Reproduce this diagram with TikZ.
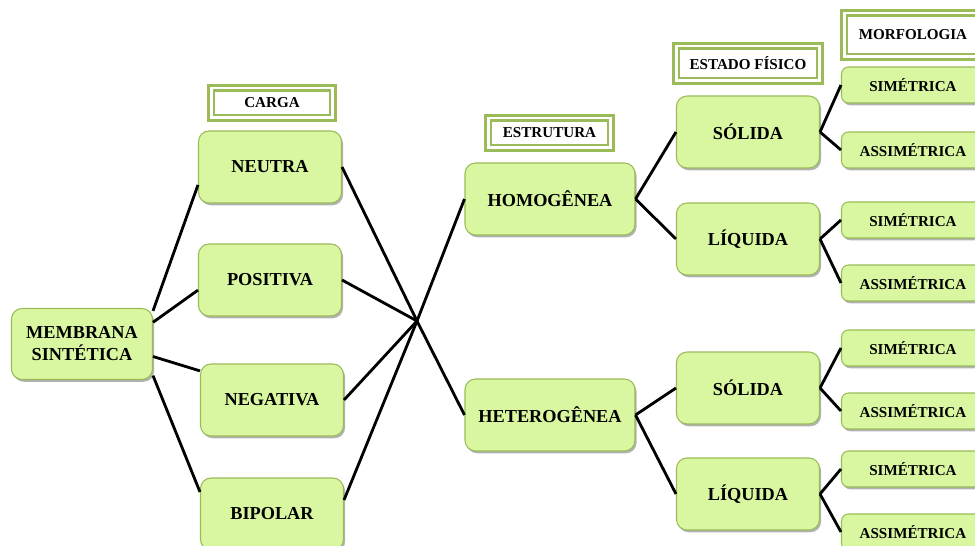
\documentclass[tikz,border=0pt]{standalone}
\usepackage{fontspec}
\setmainfont{Liberation Serif}
\usetikzlibrary{positioning}
\usetikzlibrary{shadows}
\definecolor{caixaverde}{RGB}{216,247,160}
\definecolor{bordaverde}{RGB}{155,187,89}
\tikzset{
    caixa/.style={ % Green boxes of the map
        draw=bordaverde,
        fill=caixaverde,
        line width=0.6pt,
        rounded corners=6pt,
        minimum width=2.86cm,
        minimum height=1.44cm,
        align=center,
        font=\fontsize{10.4}{12.5}\selectfont\bfseries,
        drop shadow={shadow xshift=0.9pt, shadow yshift=-1.3pt, fill=black, opacity=0.3}
    },
    folha/.style={ % Small boxes on the right
        caixa,
        rounded corners=4pt,
        minimum height=0.72cm,
        font=\fontsize{8.6}{10}\selectfont\bfseries
    },
    titulo/.style={ % Headers with double frame
        draw=bordaverde,
        fill=white,
        line width=1.5pt,
        double=white,
        double distance=1.7pt,
        font=\fontsize{8.6}{10}\selectfont\bfseries
    },
    every edge/.style={ % Connectors
        draw,
        black,
        line width=1.6pt
    }
}
\begin{document}
\begin{tikzpicture}[x=0.02cm, y=-0.02cm]
            \useasboundingbox (0,0) rectangle (975,546);

            \node[caixa, minimum width=2.82cm, minimum height=1.42cm] (membrana) at (82,344) {MEMBRANA\\SINTÉTICA};

            \node[titulo, minimum width=2.44cm, minimum height=0.6cm] (carga) at (272,103) {CARGA};
            \node[caixa] (neutra) at (270,167) {NEUTRA};
            \node[caixa] (positiva) at (270,280) {POSITIVA};
            \node[caixa] (negativa) at (272,400) {NEGATIVA};
            \node[caixa] (bipolar) at (272,514) {BIPOLAR};

            \coordinate (hub) at (417,321);

            \node[titulo, minimum width=2.46cm, minimum height=0.6cm] (estrutura) at (549.5,133) {ESTRUTURA};
            \node[caixa, minimum width=3.4cm] (homogenea) at (550,199) {HOMOGÊNEA};
            \node[caixa, minimum width=3.4cm] (heterogenea) at (550,415) {HETEROGÊNEA};

            \node[titulo, minimum width=2.88cm, minimum height=0.7cm] (estado) at (748,63.5) {ESTADO FÍSICO};
            \node[caixa] (solidaA) at (748,132) {SÓLIDA};
            \node[caixa] (liquidaA) at (748,239) {LÍQUIDA};
            \node[caixa] (solidaB) at (748,388) {SÓLIDA};
            \node[caixa] (liquidaB) at (748,494) {LÍQUIDA};

            \node[titulo, minimum width=2.76cm, minimum height=0.88cm] (morfologia) at (913,35) {MORFOLOGIA};
            \node[folha] (simA) at (913,85) {SIMÉTRICA};
            \node[folha] (assA) at (913,150) {ASSIMÉTRICA};
            \node[folha] (simB) at (913,220) {SIMÉTRICA};
            \node[folha] (assB) at (913,283) {ASSIMÉTRICA};
            \node[folha] (simC) at (913,348) {SIMÉTRICA};
            \node[folha] (assC) at (913,411) {ASSIMÉTRICA};
            \node[folha] (simD) at (913,469) {SIMÉTRICA};
            \node[folha] (assD) at (913,532) {ASSIMÉTRICA};

            \draw (membrana.25) edge (neutra.194);
            \draw (membrana.17) edge (positiva.188);
            \draw (membrana.-10) edge (negativa.158);
            \draw (membrana.-24) edge (bipolar.163);

            \draw (neutra.east) edge (hub);
            \draw (positiva.east) edge (hub);
            \draw (negativa.east) edge (hub);
            \draw (bipolar.11) edge (hub);
            \draw (hub) edge (homogenea.west) edge (heterogenea.west);

            \draw (homogenea.east) edge (solidaA.west) edge (liquidaA.west);
            \draw (heterogenea.east) edge (solidaB.west) edge (liquidaB.west);

            \draw (solidaA.east) edge (simA.west) edge (assA.west);
            \draw (liquidaA.east) edge (simB.west) edge (assB.west);
            \draw (solidaB.east) edge (simC.west) edge (assC.west);
            \draw (liquidaB.east) edge (simD.west) edge (assD.west);
        \end{tikzpicture}
\end{document}
